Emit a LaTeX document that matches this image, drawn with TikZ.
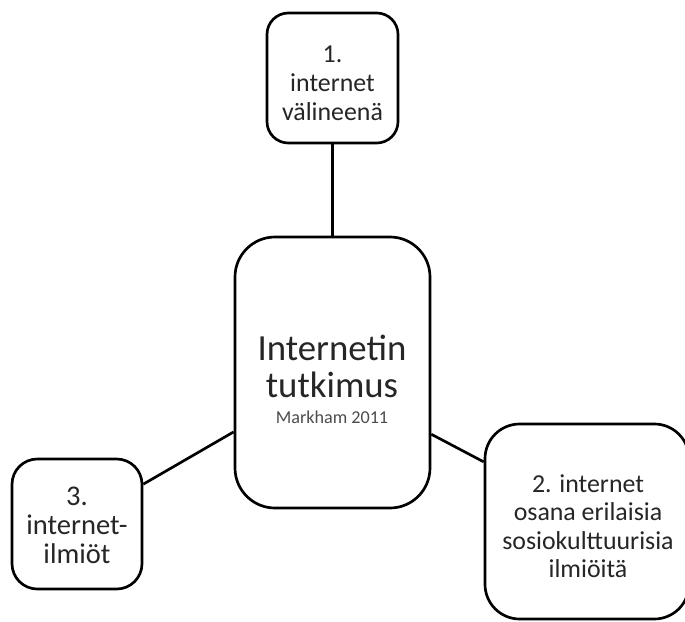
\documentclass[tikz,border=0pt]{standalone}
\usepackage{fontspec}
\setmainfont{Carlito}
\begin{document}
\begin{tikzpicture}[x=0.75pt,y=-0.75pt,
  box/.style={draw=black, line width=2pt, inner sep=0pt, fill=white},
  lbl/.style={anchor=base, inner sep=0pt, text=black!85},
  small/.style={lbl, font=\fontsize{19.4}{22}\selectfont},
  smallL/.style={lbl, font=\fontsize{21.4}{24}\selectfont},
  big/.style={lbl, font=\fontsize{27.6}{30}\selectfont},
  note/.style={lbl, text=black!70, font=\fontsize{13.6}{16}\selectfont},
  con/.style={draw=black, line width=2pt}]
\useasboundingbox (0,0) rectangle (685,621);
% boxes
\node[box, minimum width=98.25pt, minimum height=97.5pt, rounded corners=16pt] (b1) at (332.5,78) {};
\node[box, minimum width=146.25pt, minimum height=203.25pt, rounded corners=30pt] (bc) at (332.5,372.5) {};
\node[box, minimum width=153pt, minimum height=146.25pt, rounded corners=26pt] (b2) at (587,521.5) {};
\node[box, minimum width=97.5pt, minimum height=97.5pt, rounded corners=19pt] (b3) at (77,524) {};
% connectors
\draw[con] (b1.south) -- (bc.north);
\draw[con] (b3.31) -- (bc.211.8);
\draw[con] (bc.328.6) -- (b2.150.2);
% texts
\node[small] (t1a) at (332.5,62) {1.};
\node[small] (t1b) at (332.5,91) {internet};
\node[small] (t1c) at (332.5,120) {välineenä};
\node[big] (tca) at (332,360) {Internetin};
\node[big] (tcb) at (332,397) {tutkimus};
\node[note] (tcc) at (332,423) {Markham 2011};
\node[small] (t2a) at (588,492) {2. internet};
\node[small] (t2b) at (588,520.5) {osana erilaisia};
\node[small] (t2c) at (588,549) {sosiokulttuurisia};
\node[small] (t2d) at (588,577) {ilmiöitä};
\node[smallL] (t3a) at (77,505) {3.};
\node[smallL] (t3b) at (77,534.5) {internet-};
\node[smallL] (t3c) at (77,563) {ilmiöt};
\end{tikzpicture}
\end{document}
